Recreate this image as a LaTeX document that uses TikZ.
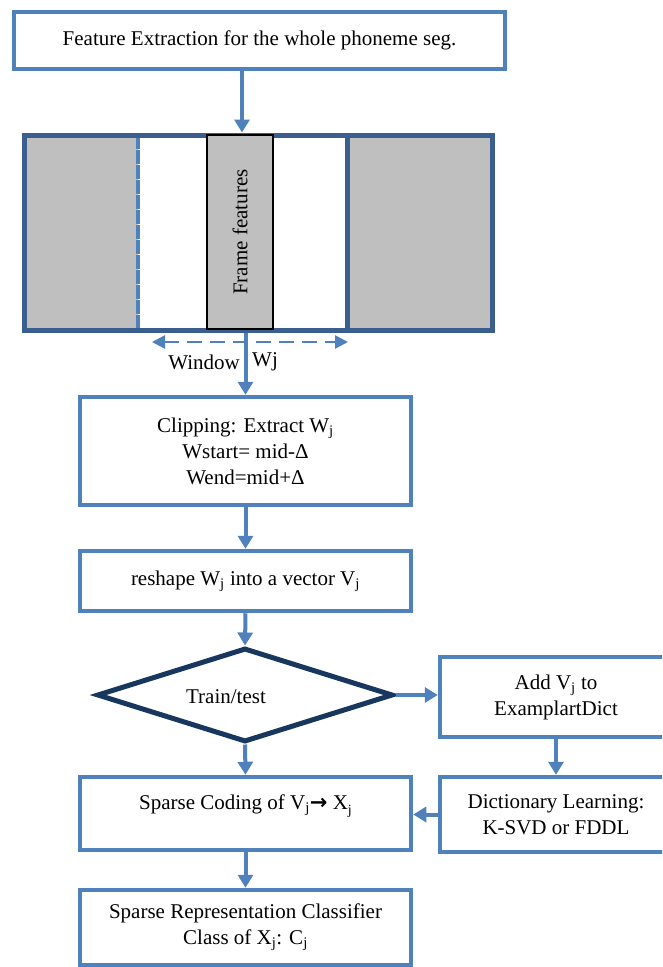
\documentclass[tikz,border=0pt]{standalone}
\usepackage{fontspec}
\setmainfont{Liberation Serif}
\newfontfamily\arrowfont{DejaVu Sans}
\usepackage{tikz}
\usetikzlibrary{arrows.meta,shapes.geometric,positioning}
\definecolor{boxblue}{HTML}{4F81BD}
\definecolor{framecol}{HTML}{3A5F8F}
\definecolor{navy}{HTML}{17375E}
\definecolor{grayfill}{HTML}{BFBFBF}
\tikzstyle{box} = [rectangle, draw=boxblue, line width=4.5pt, fill=white, align=center, inner sep=0pt, font=\fontsize{21}{26}\selectfont]
\tikzstyle{txt} = [align=center, inner sep=0pt, font=\fontsize{21}{26}\selectfont]
\tikzstyle{arrow} = [boxblue, line width=4pt, -{Triangle[width=15pt,length=13pt]}]
\tikzstyle{winarrow} = [boxblue, line width=2.5pt, dash pattern=on 15pt off 8pt, {Triangle[width=13pt,length=13pt]}-{Triangle[width=13pt,length=13pt]}]

\begin{document}
\begin{tikzpicture}[x=1pt,y=-1pt]
                \useasboundingbox (0,0) rectangle (662,967);
                \clip (0,0) rectangle (662,967);
                \fill[white] (0,0) rectangle (662,967);
                % top box
                \node [box, minimum width=491pt, minimum height=57pt] (feat) at (259.5,40.5) {Feature Extraction for the whole phoneme seg.};
                % frame of features
                \fill[grayfill] (24,135) rectangle (138,330);
                \fill[grayfill] (347,135) rectangle (492,330);
                \draw[boxblue, line width=4pt, dash pattern=on 14pt off 1pt] (138,135) -- (138,330);
                \draw[framecol, line width=5pt] (347,135) -- (347,330);
                \node [draw=framecol, line width=5pt, minimum width=468pt, minimum height=195pt, inner sep=0pt] (frame) at (258,232.5) {};
                \node [txt, draw=black, fill=grayfill, line width=1.2pt, rotate=90, minimum width=194pt, minimum height=66pt] (frames) at (240,232) {Frame features};
                \coordinate (wl) at (152,342);
                \coordinate (wr) at (348,342);
                \draw[winarrow] (wl) -- (wr);
                \node [txt, anchor=east] (window) at (240,362) {Window};
                \node [txt, anchor=west] (wj) at (252,362) {Wj};
                % left column
                \node [box, minimum width=331pt, minimum height=108pt] (clip) at (245.5,451) {Clipping: Extract W\textsubscript{j}\\Wstart= mid-Δ\\Wend=mid+Δ};
                \node [box, minimum width=331pt, minimum height=60pt] (reshape) at (245.5,581) {reshape W\textsubscript{j} into a vector V\textsubscript{j}};
                \node [diamond, draw=navy, line width=5pt, fill=white, minimum width=296pt, minimum height=94pt, inner sep=0pt] (train) at (245,695) {};
                \node [txt] (traintxt) at (226,697) {Train/test};
                \node [box, minimum width=331pt, minimum height=73pt] (sparse) at (245.5,813.5) {};
                \node [txt] (sparsetxt) at (245.5,806) {Sparse Coding of V\textsubscript{j}{\arrowfont\bfseries →} X\raisebox{-5pt}{\fontsize{14}{14}\selectfont j}};
                \node [box, minimum width=331pt, minimum height=75pt] (classify) at (245.5,927.5) {Sparse Representation Classifier\\Class of X\textsubscript{j}: C\textsubscript{j}};
                % right column
                \node [box, minimum width=232pt, minimum height=80pt] (add) at (556,697) {Add V\textsubscript{j} to\\ExamplartDict};
                \node [box, minimum width=232pt, minimum height=75pt] (dict) at (556,814.5) {Dictionary Learning:\\K-SVD or FDDL};
                % arrows
                \draw[arrow] ([xshift=2pt]frames.east |- feat.south) -- ([xshift=2pt]frames.east |- frame.north);
                \draw[arrow] (clip.north |- frame.south) -- (clip.north);
                \draw[arrow] (clip.south) -- (reshape.north);
                \draw[arrow] (reshape.south) -- (train.north);
                \draw[arrow] (train.south) -- (sparse.north);
                \draw[arrow] (train.east) -- (train.east -| add.west);
                \draw[arrow] (add.south) -- (dict.north);
                \draw[arrow] (dict.west) -- (dict.west -| sparse.east);
                \draw[arrow] (sparse.south) -- (classify.north);
            \end{tikzpicture}
\end{document}
